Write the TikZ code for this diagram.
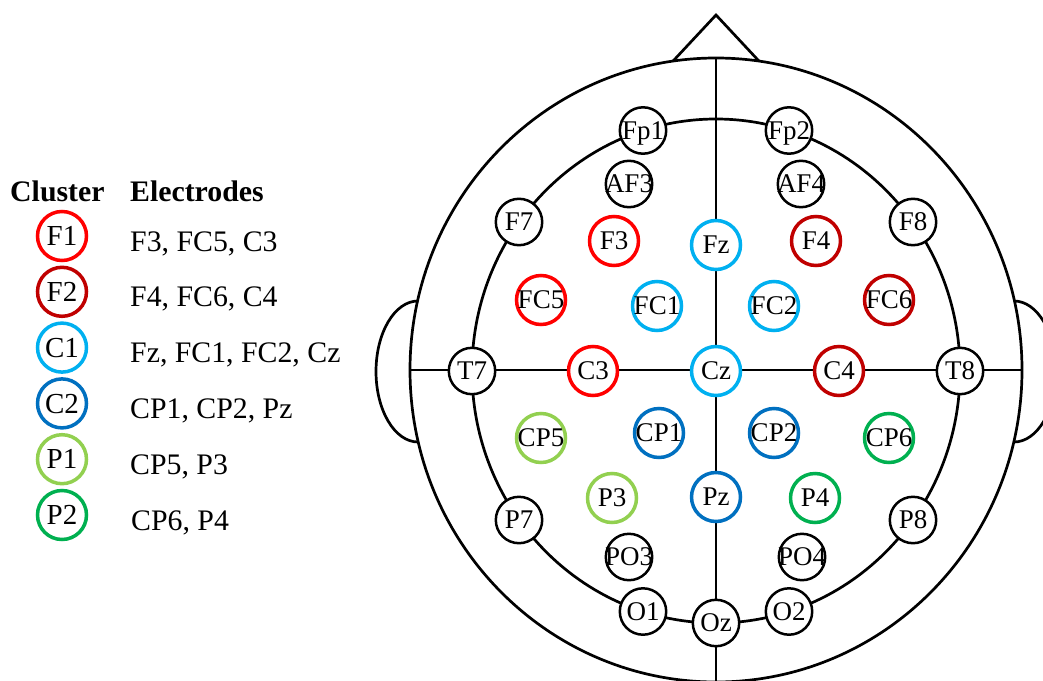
\documentclass[tikz,border=0pt]{standalone}
\usepackage{fontspec}
\setmainfont{Liberation Serif}
\definecolor{cF1}{RGB}{255,0,0}
\definecolor{cF2}{RGB}{192,0,0}
\definecolor{cC1}{RGB}{0,176,240}
\definecolor{cC2}{RGB}{0,112,192}
\definecolor{cP1}{RGB}{146,208,80}
\definecolor{cP2}{RGB}{0,176,80}
% keep wide labels from enlarging their circles
\newcommand{\ctr}[1]{\makebox[0pt]{#1}}
\begin{document}
\begin{tikzpicture}[x=1pt,y=-1pt,
  headline/.style={line width=2.7pt},
  elec/.style={circle, draw, fill=white, line width=2.5pt, minimum size=46.4pt,
    inner sep=0pt, font=\fontsize{27}{27}\selectfont, text height=17.9pt, text depth=0pt},
  clus/.style={elec, line width=3.5pt, minimum size=49pt},
  legcirc/.style={clus, font=\fontsize{29}{29}\selectfont, text height=19.2pt},
  legtext/.style={anchor=base west, inner sep=0pt, font=\fontsize{29.8}{30}\selectfont},
  leghead/.style={legtext, font=\fontsize{29.8}{30}\selectfont\bfseries}]
\useasboundingbox (0,0) rectangle (1043,680);
\clip (0,0) rectangle (1043,680);

% ---------- head outline ----------
\draw[headline] (716,370) ellipse [x radius=306, y radius=312];
\draw[headline, line join=miter] (673,61.1) -- (716,15) -- (759,61.1);
\draw[headline] (418,442) arc[start angle=90, end angle=270, x radius=42, y radius=70.5];
\draw[headline] (1014,301) arc[start angle=270, end angle=450, x radius=42, y radius=70.5];
\draw[headline] (716,58) -- (716,690);
\draw[headline] (410,370) -- (1022,370);
\draw[headline] (716,371) ellipse [x radius=244, y radius=252];

% ---------- electrodes without a cluster ----------
\node[elec] (Fp1) at (643,130.5) {\ctr{Fp1}};
\node[elec] (Fp2) at (789,130.5) {\ctr{Fp2}};
\node[elec] (AF3) at (629,184) {\ctr{AF3}};
\node[elec] (AF4) at (801,184) {\ctr{AF4}};
\node[elec] (F7) at (519,222) {\ctr{F7}};
\node[elec] (F8) at (913,222) {\ctr{F8}};
\node[elec] (T7) at (472,371) {\ctr{T7}};
\node[elec] (T8) at (960,371) {\ctr{T8}};
\node[elec] (P7) at (519,520) {\ctr{P7}};
\node[elec] (P8) at (913,520) {\ctr{P8}};
\node[elec] (PO3) at (629,557) {\ctr{PO3}};
\node[elec] (PO4) at (802,557) {\ctr{PO4}};
\node[elec] (O1) at (643,611.5) {\ctr{O1}};
\node[elec] (O2) at (789,611.5) {\ctr{O2}};
\node[elec] (Oz) at (716,623) {\ctr{Oz}};

% ---------- clustered electrodes ----------
\node[clus, draw=cF1] (F3) at (614,241) {\ctr{F3}};
\node[clus, draw=cC1] (Fz) at (716,245) {\ctr{Fz}};
\node[clus, draw=cF2] (F4) at (816,241) {\ctr{F4}};
\node[clus, draw=cF1] (FC5) at (541,300) {\ctr{FC5}};
\node[clus, draw=cC1] (FC1) at (657,306) {\ctr{FC1}};
\node[clus, draw=cC1] (FC2) at (774,306) {\ctr{FC2}};
\node[clus, draw=cF2] (FC6) at (889,300) {\ctr{FC6}};
\node[clus, draw=cF1] (C3) at (593,371) {\ctr{C3}};
\node[clus, draw=cC1] (Cz) at (716,371) {\ctr{Cz}};
\node[clus, draw=cF2] (C4) at (839,371) {\ctr{C4}};
\node[clus, draw=cP1] (CP5) at (541,438) {\ctr{CP5}};
\node[clus, draw=cC2] (CP1) at (659,433) {\ctr{CP1}};
\node[clus, draw=cC2] (CP2) at (774,433) {\ctr{CP2}};
\node[clus, draw=cP2] (CP6) at (889,438) {\ctr{CP6}};
\node[clus, draw=cP1] (P3) at (612,498) {\ctr{P3}};
\node[clus, draw=cC2] (Pz) at (716,497) {\ctr{Pz}};
\node[clus, draw=cP2] (P4) at (815,498) {\ctr{P4}};

% ---------- legend ----------
\node[leghead] (hcl) at (10,201) {Cluster};
\node[leghead] (hel) at (130,201) {Electrodes};

\node[legcirc, draw=cF1] (kF1) at (62,236) {F1};
\node[legcirc, draw=cF2] (kF2) at (62,291.8) {F2};
\node[legcirc, draw=cC1] (kC1) at (62,347.6) {C1};
\node[legcirc, draw=cC2] (kC2) at (62,403.4) {C2};
\node[legcirc, draw=cP1] (kP1) at (62,459.2) {P1};
\node[legcirc, draw=cP2] (kP2) at (62,515) {P2};

\node[legtext] (tF1) at (130,251) {F3, FC5, C3};
\node[legtext] (tF2) at (130,306.8) {F4, FC6, C4};
\node[legtext] (tC1) at (130,362.6) {Fz, FC1, FC2, Cz};
\node[legtext] (tC2) at (130,418.4) {CP1, CP2, Pz};
\node[legtext] (tP1) at (130,474.2) {CP5, P3};
\node[legtext] (tP2) at (131,530) {CP6, P4};
\end{tikzpicture}
\end{document}
